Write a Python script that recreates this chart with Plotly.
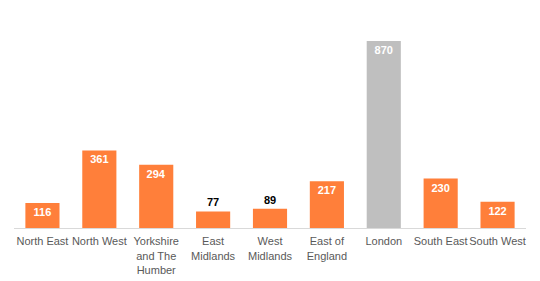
import plotly.graph_objects as go

regions = ["North East", "North West", "Yorkshire<br>and The<br>Humber", "East<br>Midlands",
           "West<br>Midlands", "East of<br>England", "London", "South East", "South West"]
values = [116, 361, 294, 77, 89, 217, 870, 230, 122]
colors = ["#FF7F3A"] * 6 + ["#BFBFBF"] + ["#FF7F3A"] * 2
positions = ["inside", "inside", "inside", "outside", "outside", "inside", "inside", "inside", "inside"]

fig = go.Figure(go.Bar(
    x=regions, y=values, marker=dict(color=colors, line=dict(width=0)),
    text=[str(v) for v in values], textposition=positions,
    insidetextanchor="end",
    insidetextfont=dict(color="white", size=11, family="Liberation Sans"),
    outsidetextfont=dict(color="black", size=11, family="Liberation Sans"),
    texttemplate="<b>%{text}</b>", cliponaxis=False,
))
fig.update_layout(
    width=540, height=281, margin=dict(l=14, r=14, t=35, b=53),
    plot_bgcolor="white", paper_bgcolor="white", bargap=0.4,
    font=dict(family="Liberation Sans", size=11, color="#595959"),
    showlegend=False,
    xaxis=dict(showline=True, linecolor="#D9D9D9", linewidth=1, ticks="", tickangle=0,
               automargin=False, ticklabelstandoff=3,
               tickfont=dict(size=11, color="#595959")),
    yaxis=dict(visible=False, range=[0, 898]),
)
fig.write_html("out.html")
